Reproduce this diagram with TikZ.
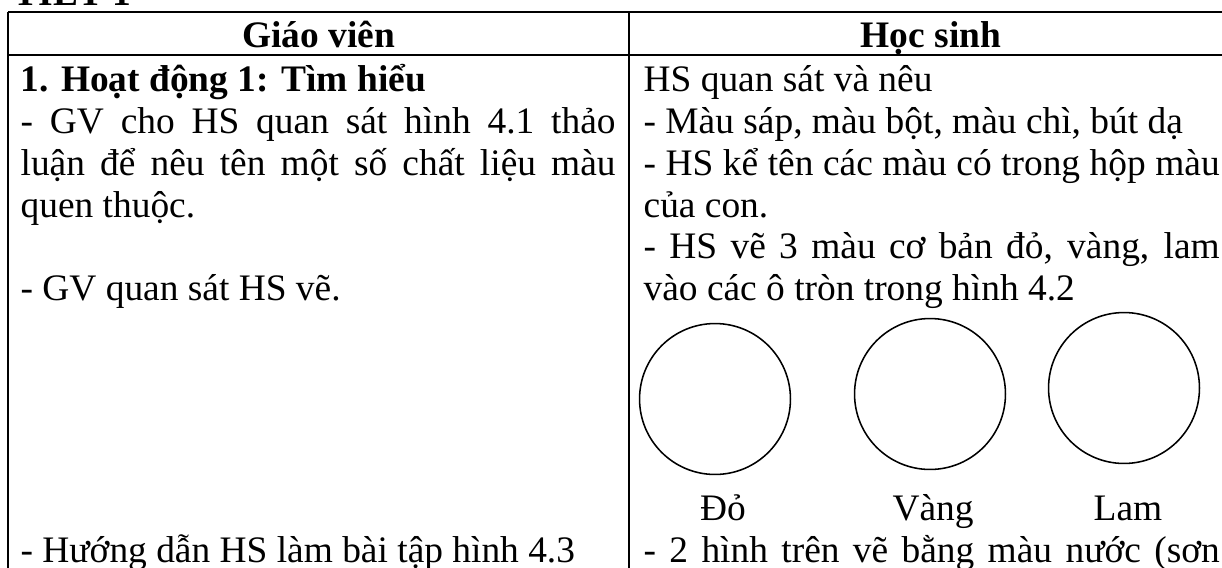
\documentclass[tikz,border=0pt]{standalone}
\usepackage{fontspec}
\setmainfont{Liberation Serif}
\newlength{\colL}\setlength{\colL}{230.6pt}
\newlength{\colR}\setlength{\colR}{223.3pt}
\tikzset{
  txt/.style={anchor=base west, inner sep=0pt, font=\fontsize{14.5pt}{16.1pt}\selectfont},
  head/.style={anchor=base, inner sep=0pt, font=\fontsize{14.5pt}{16.1pt}\selectfont\bfseries},
  colorname/.style={anchor=base, inner sep=0pt, font=\fontsize{14.5pt}{16.1pt}\selectfont},
  colorcircle/.style={draw, circle, line width=0.6pt, minimum size=58.5pt, inner sep=0pt}
}
\begin{document}
\begin{tikzpicture}[x=0.3876pt, y=-0.3876pt, line width=0.5pt]
    \useasboundingbox (0,0) rectangle (1222,567);
    % Draw the title, cut at the top
    \node[head, anchor=base west] (title) at (13,5) {TIẾT 1};
    % Draw the table lines
    \draw (8,12) -- (1240,12);
    \draw (8,55) -- (1240,55);
    \draw (8,12) -- (8,580);
    \draw (629,12) -- (629,580);
    % Add the header labels
    \node[head] (gv) at (318.5,47) {Giáo viên};
    \node[head] (hs) at (931,47) {Học sinh};
    % Left column
    \node[txt, font=\fontsize{14.5pt}{16.1pt}\selectfont\bfseries] (l1) at (20,91) {1. Hoạt động 1: Tìm hiểu};
    \node[txt] (l2) at (20,133) {\makebox[\colL][s]{- GV cho HS quan sát hình 4.1 thảo}};
    \node[txt] (l3) at (20,175) {\makebox[\colL][s]{luận để nêu tên một số chất liệu màu}};
    \node[txt] (l4) at (20,217) {quen thuộc.};
    \node[txt] (l5) at (20,300) {- GV quan sát HS vẽ.};
    \node[txt] (l6) at (20,562) {- Hướng dẫn HS làm bài tập hình 4.3};
    % Right column
    \node[txt] (r1) at (643,91) {HS quan sát và nêu};
    \node[txt] (r2) at (643,133) {- Màu sáp, màu bột, màu chì, bút dạ};
    \node[txt] (r3) at (643,175) {\makebox[\colR][s]{- HS kể tên các màu có trong hộp màu}};
    \node[txt] (r4) at (643,217) {của con.};
    \node[txt] (r5) at (643,258) {\makebox[\colR][s]{- HS vẽ 3 màu cơ bản đỏ, vàng, lam}};
    \node[txt] (r6) at (643,300) {vào các ô tròn trong hình 4.2};
    \node[txt] (r7) at (643,562) {\makebox[\colR][s]{- 2 hình trên vẽ bằng màu nước (sơn}};
    % Draw the three colour circles
    \node[colorcircle] (red) at (715,399) {};
    \node[colorcircle] (yellow) at (930,394) {};
    \node[colorcircle] (blue) at (1124,388) {};
    % Add the colour names
    \node[colorname] (redname) at (723,520) {Đỏ};
    \node[colorname] (yellowname) at (933,520) {Vàng};
    \node[colorname] (bluename) at (1128,520) {Lam};
\end{tikzpicture}
\end{document}
